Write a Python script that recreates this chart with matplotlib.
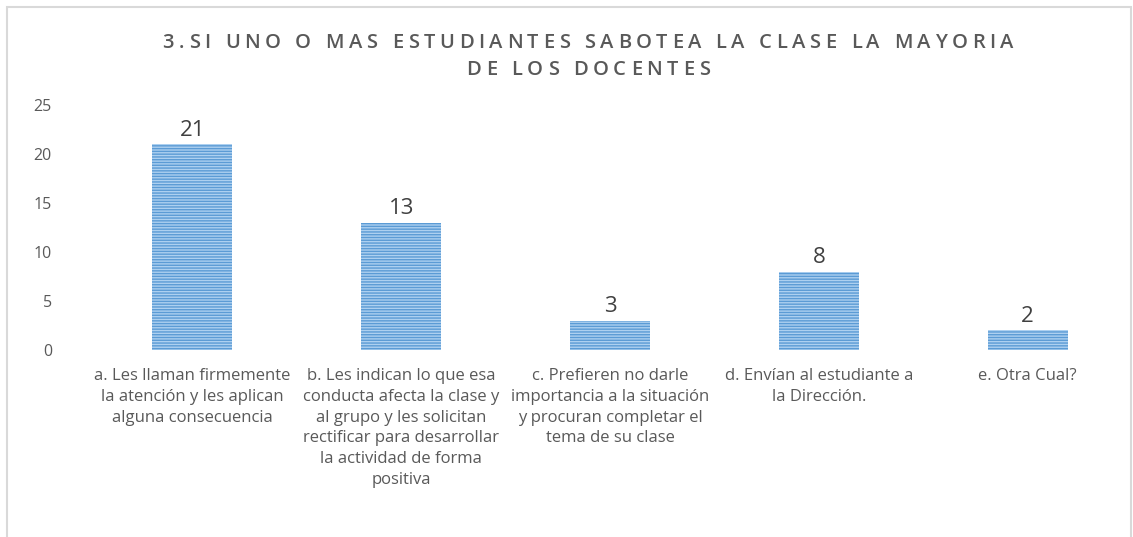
import matplotlib
matplotlib.use("Agg")
import matplotlib.pyplot as plt
from matplotlib.patches import Rectangle
from matplotlib.font_manager import FontProperties

categories = [
    "a. Les llaman firmemente\nla atención y les aplican\nalguna consecuencia",
    "b. Les indican lo que esa\nconducta afecta la clase y\nal grupo y les solicitan\nrectificar para desarrollar\nla actividad de forma\npositiva",
    "c. Prefieren no darle\nimportancia a la situación\ny procuran completar el\ntema de su clase",
    "d. Envían al estudiante a\nla Dirección.",
    "e. Otra Cual?",
]
values = [21, 13, 3, 8, 2]
yticks = [0, 5, 10, 15, 20, 25]
title_lines = ["3.SI UNO O MAS ESTUDIANTES SABOTEA LA CLASE LA MAYORIA",
               "DE LOS DOCENTES"]

plt.rcParams['font.family'] = ['Open Sans', 'DejaVu Sans']
plt.rcParams['hatch.linewidth'] = 1.0

W, H = 1133, 537
fig = plt.figure(figsize=(W/100, H/100), dpi=100)
fig.patch.set_facecolor('white')

# outer chart frame
fig.patches.append(Rectangle((7/W, -0.05), (1131-7)/W, (H-7)/H + 0.05,
                             transform=fig.transFigure, fill=False,
                             edgecolor='#d9d9d9', linewidth=1.5))

ax = fig.add_axes([88/W, 187/H, (1132-88)/W, 245/H])
x = list(range(len(values)))
bars = ax.bar(x, values, width=0.383, facecolor='#add0f0', edgecolor='#5b9bd5',
              hatch='------', linewidth=0)

ax.set_xlim(-0.5, len(values) - 0.5)
ax.set_ylim(0, 25)
ax.set_yticks(yticks)
ax.set_xticks(x)
ax.set_xticklabels(categories, fontsize=12, color='#595959', linespacing=1.4)
ax.tick_params(axis='y', labelsize=11.5, labelcolor='#595959', length=0, pad=26)
ax.tick_params(axis='x', length=0, pad=13)
for s in ax.spines.values():
    s.set_visible(False)

for xi, v in zip(x, values):
    ax.annotate(str(v), (xi, v), xytext=(0, 2.5), textcoords='offset points',
                ha='center', va='bottom', fontsize=16, color='#404040')

# letter-spaced title
renderer = fig.canvas.get_renderer()
tprop = FontProperties(family='Open Sans', size=14.5, weight='semibold')
spacing = 4.6  # extra px between letters
for line, yc in zip(title_lines, [43, 70]):
    widths = [renderer.get_text_width_height_descent(c, tprop, ismath=False)[0]
              for c in line]
    total = sum(widths) + spacing * (len(line) - 1)
    xpos = 588 - total / 2
    for c, w in zip(line, widths):
        if c != ' ':
            fig.text(xpos / W, 1 - yc / H, c, ha='left', va='center',
                     fontproperties=tprop, color='#595959')
        xpos += w + spacing

fig.savefig('out.png', dpi=100)
